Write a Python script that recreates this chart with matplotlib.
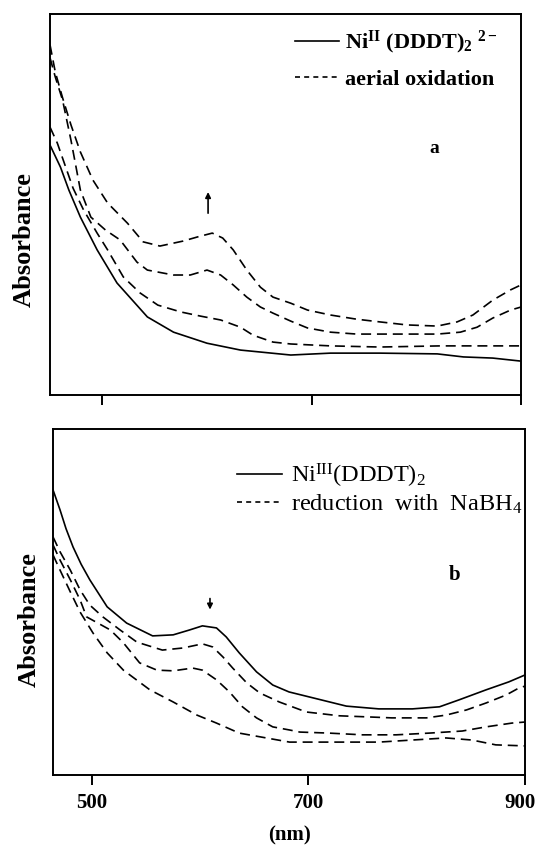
import matplotlib
matplotlib.use('Agg')
import matplotlib.pyplot as plt
import matplotlib.transforms as mtransforms
from matplotlib.lines import Line2D

plt.rcParams['font.family'] = ['Liberation Serif', 'DejaVu Serif']
plt.rcParams['mathtext.fontset'] = 'custom'
plt.rcParams['mathtext.rm'] = 'Liberation Serif'
plt.rcParams['mathtext.it'] = 'Liberation Serif:italic'
plt.rcParams['mathtext.bf'] = 'Liberation Serif:bold'

# ---- panel a : Ni(II) complex, aerial oxidation ----
a_solid_nm = [450, 460, 468, 479, 495, 514, 543, 568, 600, 632, 680, 718, 765, 820, 845, 873, 900]
a_solid = [.656, .598, .538, .467, .381, .294, .205, .165, .136, .118, .105, .110, .110, .108, .100, .097, .089]

a_ox1_nm = [450, 457, 465, 472, 482, 495, 505, 520, 536, 553, 575, 594, 613, 632, 644, 663, 680, 718, 765, 823, 861, 900]
a_ox1 = [.703, .661, .598, .543, .486, .425, .381, .310, .268, .236, .218, .207, .197, .178, .157, .139, .134, .129, .126, .129, .129, .129]

a_ox2_nm = [450, 455, 462, 470, 479, 489, 503, 517, 533, 543, 568, 584, 600, 613, 625, 638, 651, 663, 680, 696, 718, 743, 820, 842, 858, 873, 890, 900]
a_ox2 = [.885, .835, .774, .669, .538, .467, .433, .407, .349, .328, .315, .315, .328, .315, .289, .257, .231, .215, .194, .176, .165, .160, .160, .165, .178, .202, .223, .231]

a_ox3_nm = [450, 455, 462, 470, 479, 491, 505, 524, 539, 555, 577, 591, 605, 615, 625, 638, 651, 663, 680, 696, 718, 743, 765, 791, 820, 839, 854, 873, 890, 900]
a_ox3 = [.919, .848, .780, .709, .638, .564, .504, .451, .402, .391, .404, .415, .425, .412, .381, .328, .283, .257, .241, .223, .210, .199, .192, .184, .181, .192, .210, .249, .276, .289]

# ---- panel b : Ni(III) complex, reduction with NaBH4 ----
b_solid_nm = [464, 470.5, 476, 482.5, 490, 498, 514, 532, 556, 575, 590, 602, 615, 624, 636, 652, 667, 682, 704, 735, 765, 796, 821, 839, 864, 885, 900]
b_solid = [.824, .766, .712, .659, .609, .564, .486, .439, .402, .405, .419, .431, .425, .399, .353, .298, .260, .240, .223, .199, .191, .191, .197, .217, .246, .269, .289]

b_red1_nm = [464, 470.5, 480, 489, 498, 510, 526, 541.5, 565, 584, 602, 611.5, 621, 630, 643, 655, 673, 698, 728.6, 753.5, 777, 809, 827, 846, 864, 882.5, 893, 900]
b_red1 = [.688, .645, .592, .535, .491, .457, .419, .384, .361, .367, .379, .370, .341, .309, .266, .237, .211, .182, .171, .168, .165, .165, .173, .188, .208, .231, .249, .257]

b_red2_nm = [464, 470.5, 480, 489, 495, 517, 529, 544, 560, 575, 593, 602, 615, 627, 639, 652, 667, 682.5, 692, 719, 750, 781, 811.5, 842, 864, 888, 900]
b_red2 = [.665, .621, .564, .506, .457, .419, .382, .324, .303, .301, .309, .303, .275, .240, .197, .165, .139, .130, .124, .121, .116, .116, .121, .127, .139, .150, .153]

b_red3_nm = [464, 470.5, 480, 489, 501, 514, 529, 553.5, 575, 597, 615, 636, 661, 682.5, 704, 735, 765, 796, 827, 851, 873, 900]
b_red3 = [.636, .592, .529, .471, .410, .353, .303, .246, .211, .173, .150, .121, .107, .095, .095, .095, .095, .101, .107, .101, .087, .084]

xticks = [500, 700, 900]
xtick_labels = ['500', '700', '900']

DASH = (0, (6, 3.5))
LW = 1.2

fig = plt.figure(figsize=(5.35, 8.49), dpi=100)
ax1 = fig.add_axes([0.0935, 0.5347, 0.8804, 0.4488])
ax2 = fig.add_axes([0.0991, 0.0872, 0.8822, 0.4075])

# panel a
ax1.plot(a_solid_nm, a_solid, color='black', lw=LW)
for xs, ys in [(a_ox1_nm, a_ox1), (a_ox2_nm, a_ox2), (a_ox3_nm, a_ox3)]:
    ax1.plot(xs, ys, color='black', lw=LW, linestyle=DASH)
ax1.set_xlim(450, 900)
ax1.set_ylim(0, 1)
ax1.annotate('', xy=(601, .540), xytext=(601, .470),
             arrowprops=dict(arrowstyle='-|>', color='black', lw=1.2, mutation_scale=8))
ax1.text(817, .646, 'a', fontsize=14, fontweight='bold', ha='center', va='center')

h1 = [Line2D([], [], color='black', lw=LW),
      Line2D([], [], color='black', lw=LW, linestyle=(0, (3, 2.5)))]
ax1.legend(h1, [r'Ni$^{\mathbf{II}}$ (DDDT)$_{\mathbf{2}}$ $^{\mathbf{2-}}$', 'aerial oxidation'],
           loc='upper left', bbox_to_anchor=(0.52, 0.960), frameon=False,
           prop={'size': 16, 'weight': 'bold'}, handlelength=2.0, handletextpad=0.25,
           labelspacing=0.58, borderpad=0, borderaxespad=0)

# panel b
ax2.plot(b_solid_nm, b_solid, color='black', lw=LW)
for xs, ys in [(b_red1_nm, b_red1), (b_red2_nm, b_red2), (b_red3_nm, b_red3)]:
    ax2.plot(xs, ys, color='black', lw=LW, linestyle=DASH)
ax2.set_xlim(464, 900)
ax2.set_ylim(0, 1)
ax2.annotate('', xy=(609, .470), xytext=(609, .518),
             arrowprops=dict(arrowstyle='-|>', color='black', lw=1.2, mutation_scale=8))
ax2.text(835, .578, 'b', fontsize=15, fontweight='bold', ha='center', va='center')

h2 = [Line2D([], [], color='black', lw=LW),
      Line2D([], [], color='black', lw=LW, linestyle=(0, (3, 2.5)))]
ax2.legend(h2, [r'Ni$^{\mathrm{III}}$(DDDT)$_2$', r'reduction  with  NaBH$_4$'],
           loc='upper left', bbox_to_anchor=(0.39, 0.905), frameon=False,
           prop={'size': 17.5}, handlelength=1.85, handletextpad=0.35,
           labelspacing=0.12, borderpad=0, borderaxespad=0)

for ax in (ax1, ax2):
    for s in ax.spines.values():
        s.set_linewidth(1.4)
    ax.set_yticks([])
    ax.set_xticks(xticks)
    ax.tick_params(axis='x', direction='out', length=7, width=1.4, pad=6)
    ax.set_ylabel('Absorbance', fontsize=19, fontweight='bold')

ax1.set_xticklabels([])
ax2.set_xticklabels(xtick_labels, fontsize=15, fontweight='bold')
ax2.set_xlabel('(nm)', fontsize=15, fontweight='bold', labelpad=9)

# last tick label sits against the right edge, as in the original
last = ax2.get_xticklabels()[-1]
last.set_ha('right')
last.set_transform(last.get_transform() +
                   mtransforms.ScaledTranslation(8 / 72, 0, fig.dpi_scale_trans))

ax1.yaxis.set_label_coords(-0.030, 0.407)
ax2.yaxis.set_label_coords(-0.025, 0.45)

fig.savefig('out.png', dpi=100)
